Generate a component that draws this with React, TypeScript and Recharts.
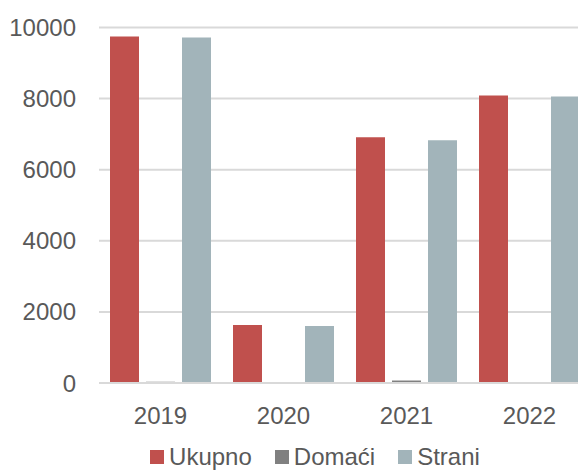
import React from 'react';
import { BarChart, Bar, XAxis, YAxis, CartesianGrid, Legend } from 'recharts';

const years = ['2019', '2020', '2021', '2022'];
const ukupno = [9750, 1630, 6910, 8090];
const domaci = [35, 5, 70, 20];
const strani = [9720, 1600, 6830, 8060];
const yTicks = [0, 2000, 4000, 6000, 8000, 10000];

const series = [
    { key: 'ukupno', name: 'Ukupno', color: '#C0504D' },
    { key: 'domaci', name: 'Domaći', color: '#808080' },
    { key: 'strani', name: 'Strani', color: '#A2B4BA' },
];

const data = years.map((year, i) => ({
    year,
    ukupno: ukupno[i],
    domaci: domaci[i],
    strani: strani[i],
}));

const textColor = '#595959';
const gridColor = '#D9D9D9';
const font = '"Liberation Sans", Arial, sans-serif';

const LegendContent = () => (
    <div style={{ display: 'flex', justifyContent: 'center', alignItems: 'center', height: 28, lineHeight: '28px', fontFamily: font, fontSize: 24, color: textColor }}>
        {series.map((s, i) => (
            <div key={s.key} style={{ display: 'flex', alignItems: 'center', marginRight: i < series.length - 1 ? 23 : 0 }}>
                <span style={{ display: 'inline-block', width: 14, height: 14, background: s.color, marginRight: 5 }} />
                <span>{s.name}</span>
            </div>
        ))}
    </div>
);

const App: React.FC = () => {
    return (
        <div style={{ position: 'fixed', left: 0, top: 0, width: 578, height: 471, overflow: 'hidden', background: '#fff' }}>
            <BarChart
                width={630}
                height={471}
                data={data}
                margin={{ top: 27.5, right: 39, left: 0, bottom: 0 }}
                barCategoryGap={11}
                barGap={7}
            >
                <CartesianGrid vertical={false} stroke={gridColor} strokeWidth={2} />
                <XAxis
                    dataKey="year"
                    height={60}
                    tickLine={false}
                    tickSize={0}
                    tickMargin={24}
                    axisLine={{ stroke: gridColor, strokeWidth: 2 }}
                    tick={{ fontSize: 24, fill: textColor, fontFamily: font }}
                />
                <YAxis
                    width={99}
                    domain={[0, 10000]}
                    ticks={yTicks}
                    axisLine={false}
                    tickLine={false}
                    tickSize={0}
                    tickMargin={23}
                    tick={{ fontSize: 24, fill: textColor, fontFamily: font }}
                />
                <Legend verticalAlign="bottom" content={<LegendContent />} wrapperStyle={{ bottom: 0, left: 0, width: 630 }} />
                {series.map((s) => (
                    <Bar key={s.key} dataKey={s.key} name={s.name} fill={s.color} isAnimationActive={false} />
                ))}
            </BarChart>
        </div>
    );
};

export default App;
